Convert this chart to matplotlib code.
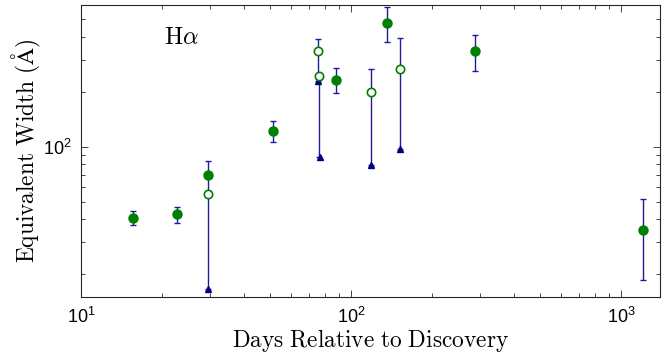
import matplotlib
matplotlib.use("Agg")
import matplotlib.pyplot as plt
import matplotlib.ticker as mticker
import numpy as np

# filled points with error bars
days_fill = [15.6, 22.6, 29.5, 51.4, 87.7, 135.9, 287.7, 1202]
ew_fill = [40.7, 42.9, 69.8, 122.4, 233, 480, 334, 35.0]
ew_fill_lo = [37.2, 38.1, 55.4, 106.1, 197, 376, 259, 18.6]
ew_fill_hi = [44.2, 47.0, 84.1, 137.8, 270, 582, 409, 51.6]

# open points with lower limits (triangles)
days_open = [29.5, 75.5, 76.4, 118.3, 151.4]
ew_open = [55.4, 336, 244, 199.6, 267]
ew_open_hi = [55.4, 391, 244, 268, 397]
ew_open_lim = [16.6, 228.6, 88.4, 79.6, 97.1]
days_lim = [29.5, 75.7, 76.6, 118.3, 151.4]

green = '#008000'
navy = '#000080'
barcol = '#1c1c96'

plt.rcParams['font.family'] = ['Liberation Sans', 'DejaVu Sans']

fig = plt.figure(figsize=(6.68, 3.61), dpi=100)
ax = fig.add_axes([0.1213, 0.1773, 0.8667, 0.8089])
ax.set_xscale('log')
ax.set_yscale('log')

ew_open = np.array(ew_open)
ax.errorbar(days_open, ew_open,
            yerr=[ew_open - np.array(ew_open_lim), np.array(ew_open_hi) - ew_open],
            fmt='none', ecolor=barcol, elinewidth=1.0, capsize=2.2, capthick=1.0)
ax.plot(days_lim, ew_open_lim, '^', color=navy, ms=5, mec=navy, ls='none')

ew_fill = np.array(ew_fill)
ax.errorbar(days_fill, ew_fill,
            yerr=[ew_fill - np.array(ew_fill_lo), np.array(ew_fill_hi) - ew_fill],
            fmt='none', ecolor=barcol, elinewidth=1.0, capsize=2.2, capthick=1.0)

ax.plot(days_open, ew_open, 'o', mfc='white', mec=green, mew=1.2, ms=6, ls='none')
ax.plot(days_fill, ew_fill, 'o', color=green, ms=6.5, ls='none')

ax.set_xlim(10, 1394)
ax.set_ylim(15, 600)

ax.yaxis.set_minor_formatter(mticker.NullFormatter())
ax.xaxis.set_minor_formatter(mticker.NullFormatter())
ax.tick_params(which='both', direction='in', top=True, right=True, colors='0.15',
               labelcolor='black', labelsize=13)
ax.tick_params(which='major', length=5, width=0.6)
ax.tick_params(which='minor', length=3, width=0.6)
ax.tick_params(axis='x', which='major', pad=7)
ax.tick_params(axis='y', which='major', pad=6.5)
for s in ax.spines.values():
    s.set_color('0.15')
    s.set_linewidth(0.8)

ax.set_xlabel(r'$\mathrm{Days\ Relative\ to\ Discovery}$', fontsize=16.8,
              math_fontfamily='cm', labelpad=0)
ax.set_ylabel(r'$\mathrm{Equivalent\ Width\ (\AA)}$', fontsize=16.8,
              math_fontfamily='cm', labelpad=0)
ax.text(0.173, 0.887, r'$\mathrm{H}\alpha$', transform=ax.transAxes, fontsize=17.5,
        math_fontfamily='cm', ha='center', va='center')

fig.savefig('out.png', dpi=100)
